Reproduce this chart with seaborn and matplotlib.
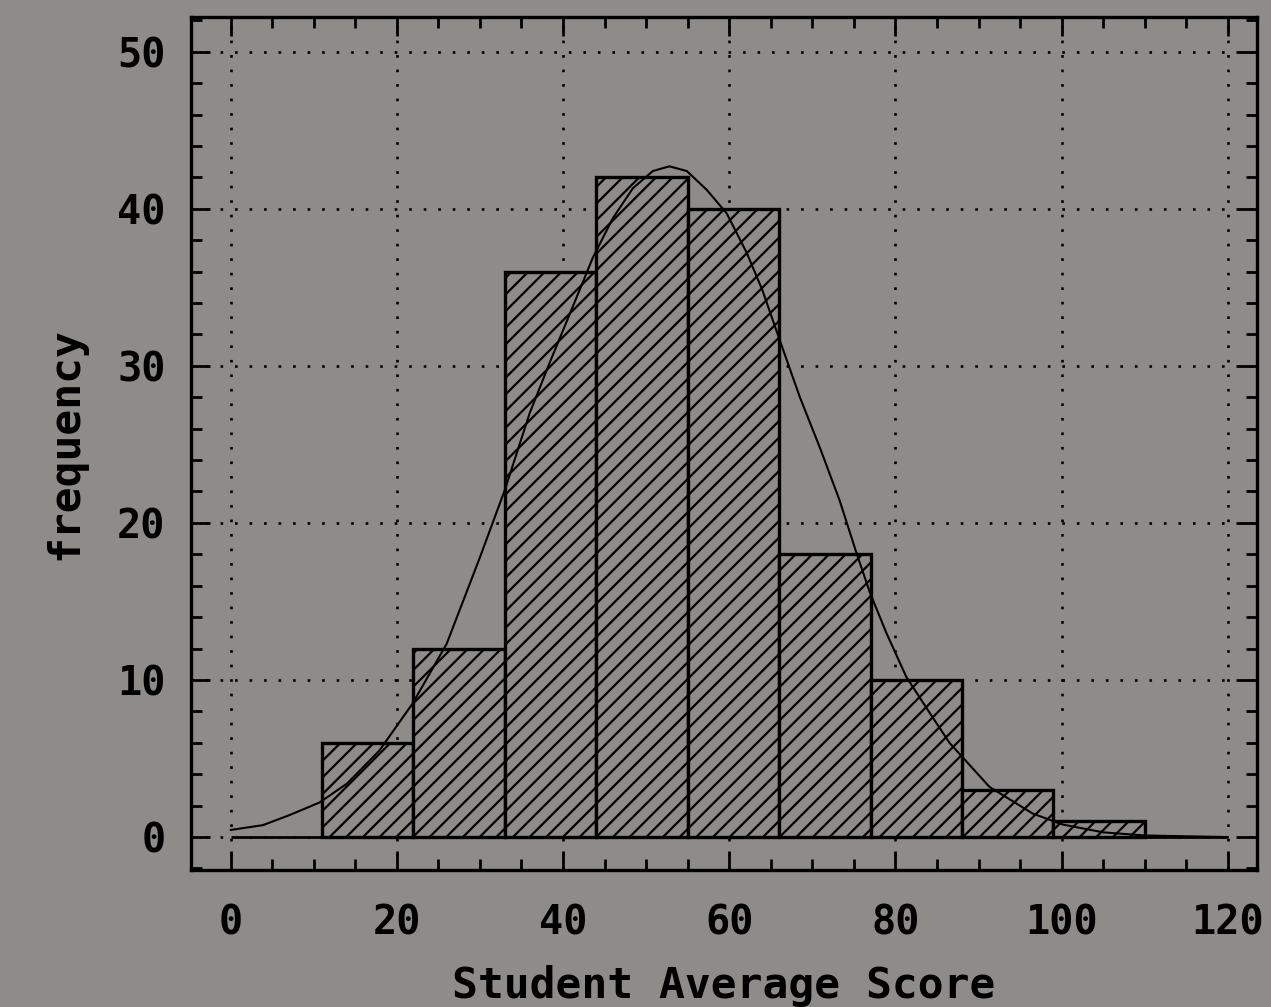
import pandas as pd
import seaborn as sns
import matplotlib.pyplot as plt
from matplotlib.ticker import MultipleLocator

# histogram: bin edges (width 11) and counts
bin_edges = [11, 22, 33, 44, 55, 66, 77, 88, 99, 110]
counts = [6, 12, 36, 42, 40, 18, 10, 3, 1]

# fitted curve, read point by point
curve_x = [0, 3.9, 7.1, 10.7, 14.0, 17.9, 21.9, 26.0, 30.0, 33.0, 36.0, 38.4,
           41.2, 43.6, 46.0, 48.4, 50.8, 52.8, 54.9, 57.3, 59.7, 62.1, 64.0,
           66.1, 68.5, 70.9, 73.3, 75.3, 76.9, 78.9, 81.3, 84.0, 86.5, 91.3,
           96.5, 100.1, 105.0, 110.0, 120.0]
curve_y = [0.45, 0.76, 1.4, 2.2, 3.4, 5.5, 8.5, 12.3, 17.8, 22.1, 27.0, 30.2,
           33.8, 36.9, 39.4, 41.3, 42.4, 42.7, 42.4, 41.2, 39.7, 37.2, 34.8,
           31.6, 28.0, 24.8, 21.4, 18.1, 15.6, 13.0, 10.2, 8.0, 6.0, 3.2,
           1.5, 0.8, 0.3, 0.1, 0.0]

x_ticks = [0, 20, 40, 60, 80, 100, 120]
y_ticks = [0, 10, 20, 30, 40, 50]

bg = "#8e8c88"

sns.set_style("ticks")
plt.rcParams["font.family"] = ["DejaVu Sans Mono", "DejaVu Sans"]
plt.rcParams["hatch.linewidth"] = 1.6
plt.rcParams["hatch.color"] = "black"

fig = plt.figure(figsize=(12.71, 10.07), dpi=100, facecolor=bg)
ax = fig.add_axes([0.150, 0.136, 0.839, 0.847])
ax.set_facecolor(bg)
ax.set_axisbelow(True)

mids = [(a + b) / 2 for a, b in zip(bin_edges[:-1], bin_edges[1:])]
df = pd.DataFrame({"score": mids, "n": counts})
sns.histplot(data=df, x="score", weights="n", bins=bin_edges, ax=ax,
             color=bg, edgecolor="black", linewidth=2.4, alpha=1,
             hatch="//", zorder=3)

# baseline and curve
ax.hlines(0, x_ticks[0], x_ticks[-1], color="black", lw=2.0, zorder=4)
sns.lineplot(x=curve_x, y=curve_y, color="black", lw=1.5, ax=ax, zorder=5)

ax.set_xlim(-4.8, 123.5)
ax.set_ylim(-2.1, 52.2)
ax.set_xticks(x_ticks)
ax.set_yticks(y_ticks)
ax.xaxis.set_minor_locator(MultipleLocator(5))
ax.yaxis.set_minor_locator(MultipleLocator(2))

ax.tick_params(which="both", direction="in", top=True, right=True, width=2.0,
               colors="black")
ax.tick_params(which="major", length=14)
ax.tick_params(which="minor", length=8)
ax.tick_params(axis="x", labelsize=29, pad=24)
ax.tick_params(axis="y", labelsize=29, pad=18)
for lbl in ax.get_xticklabels() + ax.get_yticklabels():
    lbl.set_fontweight("bold")

for s in ax.spines.values():
    s.set_linewidth(2.4)
    s.set_color("black")

ax.grid(True, which="major", color="black", linestyle=(0, (1, 4.5)), linewidth=1.9)

ax.set_xlabel("Student Average Score", fontsize=31, fontweight="bold",
              labelpad=16, color="black")
ax.set_ylabel("frequency", fontsize=31, fontweight="bold", labelpad=22,
              color="black")

fig.savefig("out.png", dpi=100, facecolor=bg)
